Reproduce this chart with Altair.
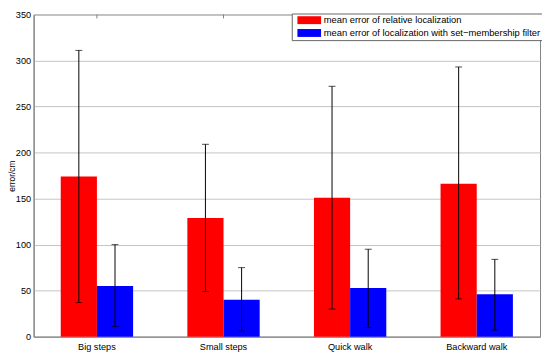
import altair as alt
import pandas as pd

categories = ["Big steps", "Small steps", "Quick walk", "Backward walk"]
series = ["mean error of relative localization",
          "mean error of localization with set\u2212membership filter"]
red_mean = [174, 129, 151, 166]
red_low = [37, 49, 30, 41]
red_high = [311, 209, 272, 293]
blue_mean = [55, 40, 53, 46]
blue_low = [11, 6, 10, 7]
blue_high = [100, 75, 95, 84]
colors = ["#ff0000", "#0000ff"]
y_ticks = [0, 50, 100, 150, 200, 250, 300, 350]

rows = []
for i, c in enumerate(categories):
    rows.append(dict(category=c, series=series[0], mean=red_mean[i], low=red_low[i], high=red_high[i]))
    rows.append(dict(category=c, series=series[1], mean=blue_mean[i], low=blue_low[i], high=blue_high[i]))
df = pd.DataFrame(rows)
cat_df = pd.DataFrame({"category": categories})

FONT = "Liberation Sans"
FS = 9.3

x = alt.X("category:N", sort=categories,
          scale=alt.Scale(paddingInner=0, paddingOuter=0),
          axis=alt.Axis(title=None, labelAngle=0, ticks=False, labelPadding=6,
                        labelFontSize=FS, labelFont=FONT, labelColor="black",
                        domainColor="#808080", grid=False))
xo = alt.XOffset("series:N", sort=series,
                 scale=alt.Scale(domain=series, paddingInner=0, paddingOuter=0.75))
y_scale = alt.Scale(domain=[0, 350], nice=False, zero=True)

bars = alt.Chart(df).mark_bar(strokeWidth=0).encode(
    x=x,
    xOffset=xo,
    y=alt.Y("mean:Q", scale=y_scale,
            axis=alt.Axis(title="error/cm", values=y_ticks, grid=True, ticks=False,
                          gridColor="#c4c4c4", gridWidth=1, domainColor="#808080",
                          labelFontSize=FS, labelFont=FONT, labelColor="black", labelPadding=3,
                          titleFontSize=8.5, titleFont=FONT, titleFontWeight="normal",
                          titleColor="black", titleX=-17)),
    color=alt.Color("series:N", sort=series,
                    scale=alt.Scale(domain=series, range=colors),
                    legend=alt.Legend(title=None, orient="none", legendX=262, legendY=-1,
                                      symbolType="M-3,-1H3V1H-3Z", symbolSize=64,
                                      symbolOffset=11,
                                      symbolStrokeWidth=0, labelFontSize=9.5, labelFont=FONT,
                                      labelColor="black", fillColor="white", labelLimit=400,
                                      strokeColor="#666666", padding=2, rowPadding=2,
                                      labelOffset=10)),
)

err = alt.Chart(df).mark_rule(color="black", strokeWidth=1).encode(
    x=alt.X("category:N", sort=categories),
    xOffset=alt.XOffset("series:N", sort=series),
    y=alt.Y("low:Q", scale=y_scale),
    y2="high:Q",
)
cap_hi = alt.Chart(df).mark_tick(color="black", size=7, thickness=1).encode(
    x=alt.X("category:N", sort=categories),
    xOffset=alt.XOffset("series:N", sort=series),
    y=alt.Y("high:Q", scale=y_scale),
)
cap_lo = alt.Chart(df).mark_tick(color="black", size=7, thickness=1).encode(
    x=alt.X("category:N", sort=categories),
    xOffset=alt.XOffset("series:N", sort=series),
    y=alt.Y("low:Q", scale=y_scale),
)
top_ticks = alt.Chart(cat_df).mark_rule(color="#808080", strokeWidth=1).encode(
    x=alt.X("category:N", sort=categories),
    y=alt.value(0),
    y2=alt.value(4),
)

chart = alt.layer(bars, err, cap_hi, cap_lo, top_ticks).properties(
    width=514, height=327,
    autosize=alt.AutoSizeParams(type="none"),
    padding={"left": 26, "top": 4, "right": 2, "bottom": 16},
    background="white",
).configure_view(stroke="#808080", strokeWidth=1)

chart.save("out.html", embed_options={"renderer": "svg", "actions": False})
